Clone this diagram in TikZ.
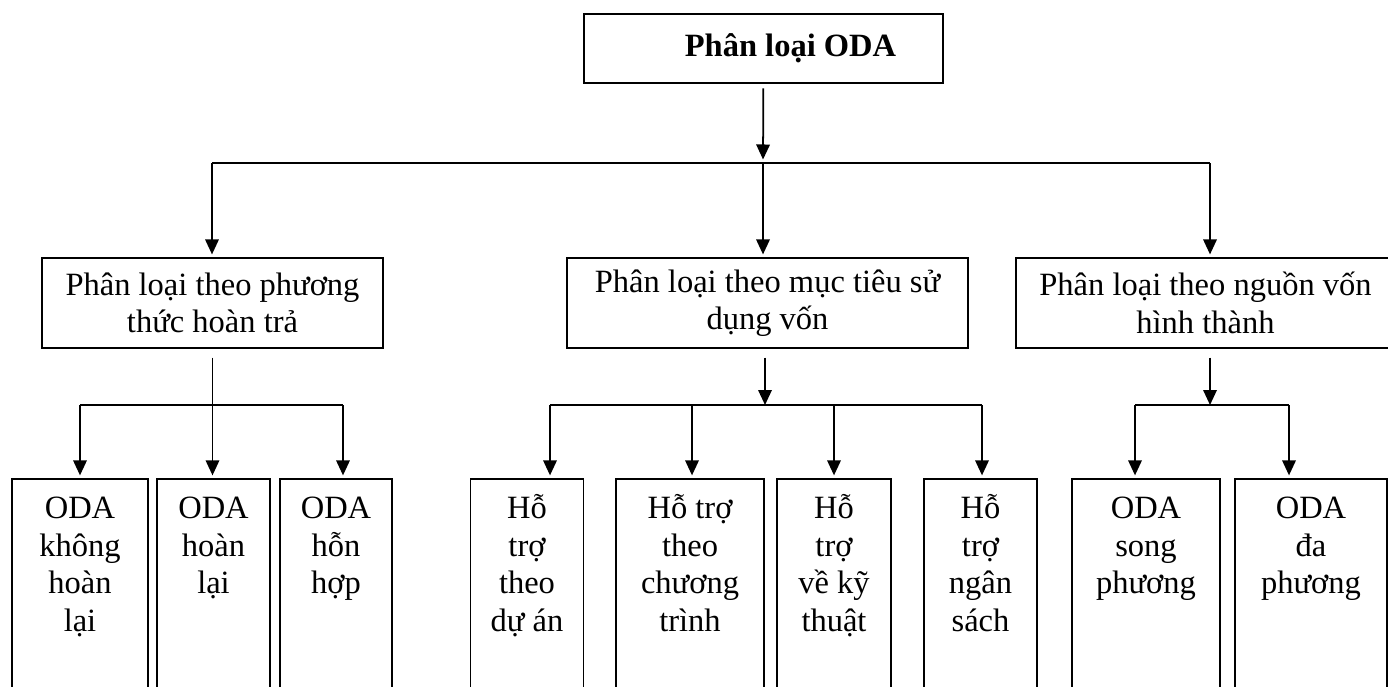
\documentclass[tikz,border=0pt]{standalone}
\usepackage{fontspec}
\setmainfont{Liberation Serif}
\usetikzlibrary{arrows.meta, positioning}
\tikzset{
    >={Triangle[length=0.3cm, width=0.27cm]},
    font=\fontsize{18.5}{21.4}\selectfont,
    box/.style={draw, line width=1.1pt, inner sep=0pt, align=center, minimum height=1.8cm},
    leaf/.style={draw, line width=1.1pt, inner sep=0pt, anchor=north, minimum height=4.9cm},
    leaftext/.style={anchor=north, yshift=-6pt, inner sep=0pt, align=center},
    link/.style={line width=1pt},
    arr/.style={link, ->, shorten >=1.5pt}
}

\begin{document}
\begin{tikzpicture}[x=0.02cm, y=-0.02cm]
    \clip (0,0) rectangle (1388,686);

    % Root
    \node[box, minimum width=7.18cm, minimum height=1.38cm, font=\fontsize{18.5}{21.4}\selectfont\bfseries] (oda) at (763.5,48.5) {\hspace*{1.08cm}Phân loại ODA};

    % Three ways of classifying
    \node[box, minimum width=6.82cm] (repay) at (212.5,303) {Phân loại theo phương\\thức hoàn trả};
    \node[box, minimum width=8.02cm] (purpose) at (767.5,303) {Phân loại theo mục tiêu sử\\dụng vốn};
    \node[box, minimum width=7.58cm] (source) at (1205.5,303) {Phân loại theo nguồn vốn\\hình thành};

    \coordinate (j0) at (763,163);
    \coordinate (jl) at (212,163);
    \coordinate (jr) at (1210,163);
    \draw[arr, shorten <=2.5pt, shorten >=2pt] (oda) -- (j0);
    \draw[link] (jl) -- (jr);
    \draw[arr] (jl) -- (jl |- repay.north);
    \draw[arr] (j0) -- (j0 |- purpose.north);
    \draw[arr] (jr) -- (jr |- source.north);

    % Case 1: by repayment
    \node[leaf, minimum width=2.72cm] (nonref) at (80,478) {};
    \node[leaf, minimum width=2.26cm] (ref) at (213.5,478) {};
    \node[leaf, minimum width=2.24cm] (mixed) at (336,478) {};
    \node[leaftext] at (nonref.north) {\rule{0pt}{17pt}ODA\\không\\hoàn\\lại};
    \node[leaftext] at (ref.north) {\rule{0pt}{17pt}ODA\\hoàn\\lại};
    \node[leaftext] at (mixed.north) {\rule{0pt}{17pt}ODA\\hỗn\\hợp};

    \coordinate (ja1) at (80,405);
    \coordinate (ja3) at (343,405);
    \draw[link] (ja1) -- (ja3);
    \draw[arr, shorten <=5pt] (repay.south) -- (repay.south |- ref.north);
    \draw[arr] (ja1) -- (ja1 |- nonref.north);
    \draw[arr] (ja3) -- (ja3 |- mixed.north);

    % Case 2: by purpose
    \node[leaf, minimum width=2.26cm] (project) at (527,478) {};
    \node[leaf, minimum width=2.96cm] (program) at (690,478) {};
    \node[leaf, minimum width=2.28cm] (technical) at (834,478) {};
    \node[leaf, minimum width=2.26cm] (budget) at (980.5,478) {};
    \node[leaftext] at (project.north) {\rule{0pt}{17pt}Hỗ\\trợ\\theo\\dự án};
    \node[leaftext] at (program.north) {\rule{0pt}{17pt}Hỗ trợ\\theo\\chương\\trình};
    \node[leaftext] at (technical.north) {\rule{0pt}{17pt}Hỗ\\trợ\\về kỹ\\thuật};
    \node[leaftext] at (budget.north) {\rule{0pt}{17pt}Hỗ\\trợ\\ngân\\sách};

    \coordinate (jb) at (765,405);
    \coordinate (jb1) at (550,405);
    \coordinate (jb2) at (692,405);
    \coordinate (jb3) at (834,405);
    \coordinate (jb4) at (982,405);
    \draw[arr, shorten <=5pt, shorten >=0pt] (jb |- purpose.south) -- (jb);
    \draw[link] (jb1) -- (jb4);
    \draw[arr] (jb1) -- (jb1 |- project.north);
    \draw[arr] (jb2) -- (jb2 |- program.north);
    \draw[arr] (jb3) -- (jb3 |- technical.north);
    \draw[arr] (jb4) -- (jb4 |- budget.north);

    % Case 3: by source
    \node[leaf, minimum width=2.96cm] (bilateral) at (1146,478) {};
    \node[leaf, minimum width=3.04cm] (multilateral) at (1311,478) {};
    \node[leaftext] at (bilateral.north) {\rule{0pt}{17pt}ODA\\song\\phương};
    \node[leaftext] at (multilateral.north) {\rule{0pt}{17pt}ODA\\đa\\phương};

    \coordinate (jc) at (1210,405);
    \coordinate (jc1) at (1135,405);
    \coordinate (jc2) at (1289,405);
    \draw[arr, shorten <=5pt, shorten >=0pt] (jc |- source.south) -- (jc);
    \draw[link] (jc1) -- (jc2);
    \draw[arr] (jc1) -- (jc1 |- bilateral.north);
    \draw[arr] (jc2) -- (jc2 |- multilateral.north);
\end{tikzpicture}
\end{document}
